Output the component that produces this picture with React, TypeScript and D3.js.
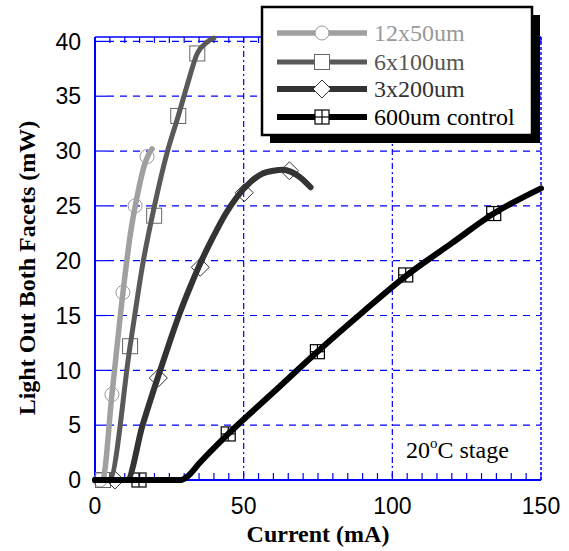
import React from 'react';
import * as d3 from 'd3';

// curve data [current mA, light mW]
const curve12x50 = [[0, 0], [2.5, 0], [5.7, 7.8], [9.4, 17.1], [12, 22.6], [14.5, 26.3], [16.5, 28.6], [18, 29.7], [19.2, 30.2]];
const curve6x100 = [[0, 0], [4.8, 0], [11.8, 12.2], [16.2, 19.9], [20, 25], [24.3, 29.9], [28, 33.2], [31, 36], [34.4, 38.9], [37.5, 39.9], [40, 40.3]];
const curve3x200 = [[0, 0], [10.7, 0], [16, 5], [21.3, 9.5], [25, 12.5], [28.5, 15.2], [32, 17.6], [36, 20.1], [40, 22.3], [44, 24.3], [48, 25.9], [52, 27.1], [56, 27.9], [60, 28.2], [63, 28.3], [66, 28.1], [69, 27.6], [72.5, 26.7]];
const curve600 = [[0, 0], [29, 0], [31, 0.3], [35, 1.5], [44.8, 4.2], [60, 8], [74.8, 11.7], [90, 15.3], [104.5, 18.6], [120, 21.6], [134.1, 24.3], [150, 26.6]];

// marker points
const marks12x50 = [[1.7, 0], [5.7, 7.8], [9.4, 17.1], [13.5, 25], [17.5, 29.5]];
const marks6x100 = [[2.7, 0], [11.8, 12.2], [19.9, 24.1], [28, 33.2], [34.4, 38.9]];
const marks3x200 = [[6.7, 0], [21.3, 9.3], [35.4, 19.4], [50.2, 26.2], [65.4, 28.2]];
const marks600 = [[14.8, 0], [44.8, 4.2], [74.8, 11.7], [104.5, 18.7], [134.1, 24.3]];

const seriesNames = ['12x50um', '6x100um', '3x200um', '600um control'];
const xTicks = [0, 50, 100, 150];
const yTicks = [0, 5, 10, 15, 20, 25, 30, 35, 40];

const blue = '#0000ff';

function Marker({ kind, cx, cy, stroke, fill }) {
  if (kind === 'circle') return <circle cx={cx} cy={cy} r={7} fill={fill} stroke={stroke} strokeWidth={1} />;
  if (kind === 'square') return <rect x={cx - 7.5} y={cy - 7.5} width={15} height={15} fill={fill} stroke={stroke} strokeWidth={1} />;
  if (kind === 'diamond') return <path d={`M${cx},${cy - 9}L${cx + 9},${cy}L${cx},${cy + 9}L${cx - 9},${cy}Z`} fill={fill} stroke={stroke} strokeWidth={1} />;
  return (
    <g stroke={stroke} strokeWidth={1.2} fill={fill}>
      <rect x={cx - 7} y={cy - 7} width={14} height={14} />
      <line x1={cx} x2={cx} y1={cy - 7} y2={cy + 7} />
      <line x1={cx - 7} x2={cx + 7} y1={cy} y2={cy} />
    </g>
  );
}

export default function App() {
  const left = 95, right = 541, top = 37, bottom = 480;
  const x = d3.scaleLinear().domain([0, 150]).range([left, right]);
  const y = d3.scaleLinear().domain([0, 40.4]).range([bottom, top]);
  const line = d3.line().x(d => x(d[0])).y(d => y(d[1])).curve(d3.curveMonotoneX);

  const series = [
    { name: seriesNames[0], curve: curve12x50, marks: marks12x50, color: '#a0a0a0', width: 5.5, kind: 'circle', mstroke: '#999999', text: '#999999' },
    { name: seriesNames[1], curve: curve6x100, marks: marks6x100, color: '#595959', width: 5, kind: 'square', mstroke: '#666666', text: '#555555' },
    { name: seriesNames[2], curve: curve3x200, marks: marks3x200, color: '#333333', width: 6, kind: 'diamond', mstroke: '#333333', text: '#333333' },
    { name: seriesNames[3], curve: curve600, marks: marks600, color: '#000000', width: 6, kind: 'cross', mstroke: '#000000', text: '#000000' },
  ];

  const minorX = d3.range(0, 151, 5);

  return (
    <svg width={569} height={551} style={{ position: 'absolute', left: 0, top: 0, background: '#fff' }}>
      {/* grid */}
      {yTicks.filter(t => t > 0).map(t => (
        <g key={'gy' + t}>
          <line x1={left} x2={left + 12} y1={y(t)} y2={y(t)} stroke={blue} strokeWidth={1.2} />
          <line x1={left + 12} x2={right} y1={y(t)} y2={y(t)} stroke={blue} strokeWidth={1.2} strokeDasharray="7,6" />
        </g>
      ))}
      {[50, 100].map(t => (
        <line key={'gx' + t} x1={x(t)} x2={x(t)} y1={top} y2={bottom} stroke={blue} strokeWidth={1.2} strokeDasharray="6,3,2,3" />
      ))}
      {/* frame */}
      <line x1={left} x2={right} y1={top} y2={top} stroke={blue} strokeWidth={1.5} />
      <line x1={right} x2={right} y1={top} y2={bottom} stroke={blue} strokeWidth={1.5} strokeDasharray="3,2" />
      <line x1={left} x2={left} y1={top} y2={bottom} stroke={blue} strokeWidth={2} />
      <line x1={left} x2={right} y1={bottom} y2={bottom} stroke={blue} strokeWidth={2} />
      {minorX.map(t => (
        <g key={'mt' + t}>
          <line x1={x(t)} x2={x(t)} y1={bottom} y2={bottom - 7} stroke={blue} strokeWidth={1.2} />
          <line x1={x(t)} x2={x(t)} y1={top} y2={top + 6} stroke={blue} strokeWidth={1.2} />
        </g>
      ))}
      {/* tick labels */}
      {yTicks.map(t => (
        <text key={'yl' + t} x={81} y={y(t)} dy="0.36em" textAnchor="end" fontFamily="'Liberation Sans', Arial, sans-serif" fontSize={23}>{t}</text>
      ))}
      {xTicks.map(t => (
        <text key={'xl' + t} x={x(t)} y={514} textAnchor="middle" fontFamily="'Liberation Sans', Arial, sans-serif" fontSize={23}>{t}</text>
      ))}
      {/* axis titles */}
      <text x={(left + right) / 2} y={542} textAnchor="middle" fontFamily="'Liberation Serif', 'Times New Roman', serif" fontWeight="bold" fontSize={24}>Current (mA)</text>
      <text transform="translate(35,268) rotate(-90)" textAnchor="middle" fontFamily="'Liberation Serif', 'Times New Roman', serif" fontWeight="bold" fontSize={24}>Light Out Both Facets (mW)</text>
      {/* markers under the lines */}
      {series.map(s => (
        <g key={'m' + s.name}>
          {s.marks.map((d, i) => (
            <Marker key={i} kind={s.kind} cx={x(d[0])} cy={y(d[1])} stroke={s.mstroke} fill="none" />
          ))}
        </g>
      ))}
      {series.map(s => (
        <path key={'p' + s.name} d={line(s.curve)} fill="none" stroke={s.color} strokeWidth={s.width} strokeLinecap="round" strokeLinejoin="round" />
      ))}
      {/* stage label */}
      <text x={406} y={458} fontFamily="'Liberation Serif', 'Times New Roman', serif" fontSize={24}>
        20<tspan dy={-10} fontSize={15}>o</tspan><tspan dy={10}>C stage</tspan>
      </text>
      {/* legend */}
      <rect x={270} y={15} width={270} height={128} fill="#000" />
      <rect x={262} y={7} width={270} height={128} fill="#fff" stroke="#000" strokeWidth={2.5} />
      {series.map((s, i) => {
        const ly = [33, 62, 89, 117][i];
        return (
          <g key={'l' + s.name}>
            <line x1={277} x2={367} y1={ly} y2={ly} stroke={s.color} strokeWidth={s.width} />
            <Marker kind={s.kind} cx={322} cy={ly} stroke={s.mstroke} fill="#fff" />
            <text x={374} y={ly} dy="0.33em" fill={s.text} fontFamily="'Liberation Serif', 'Times New Roman', serif" fontSize={24}>{s.name}</text>
          </g>
        );
      })}
    </svg>
  );
}
